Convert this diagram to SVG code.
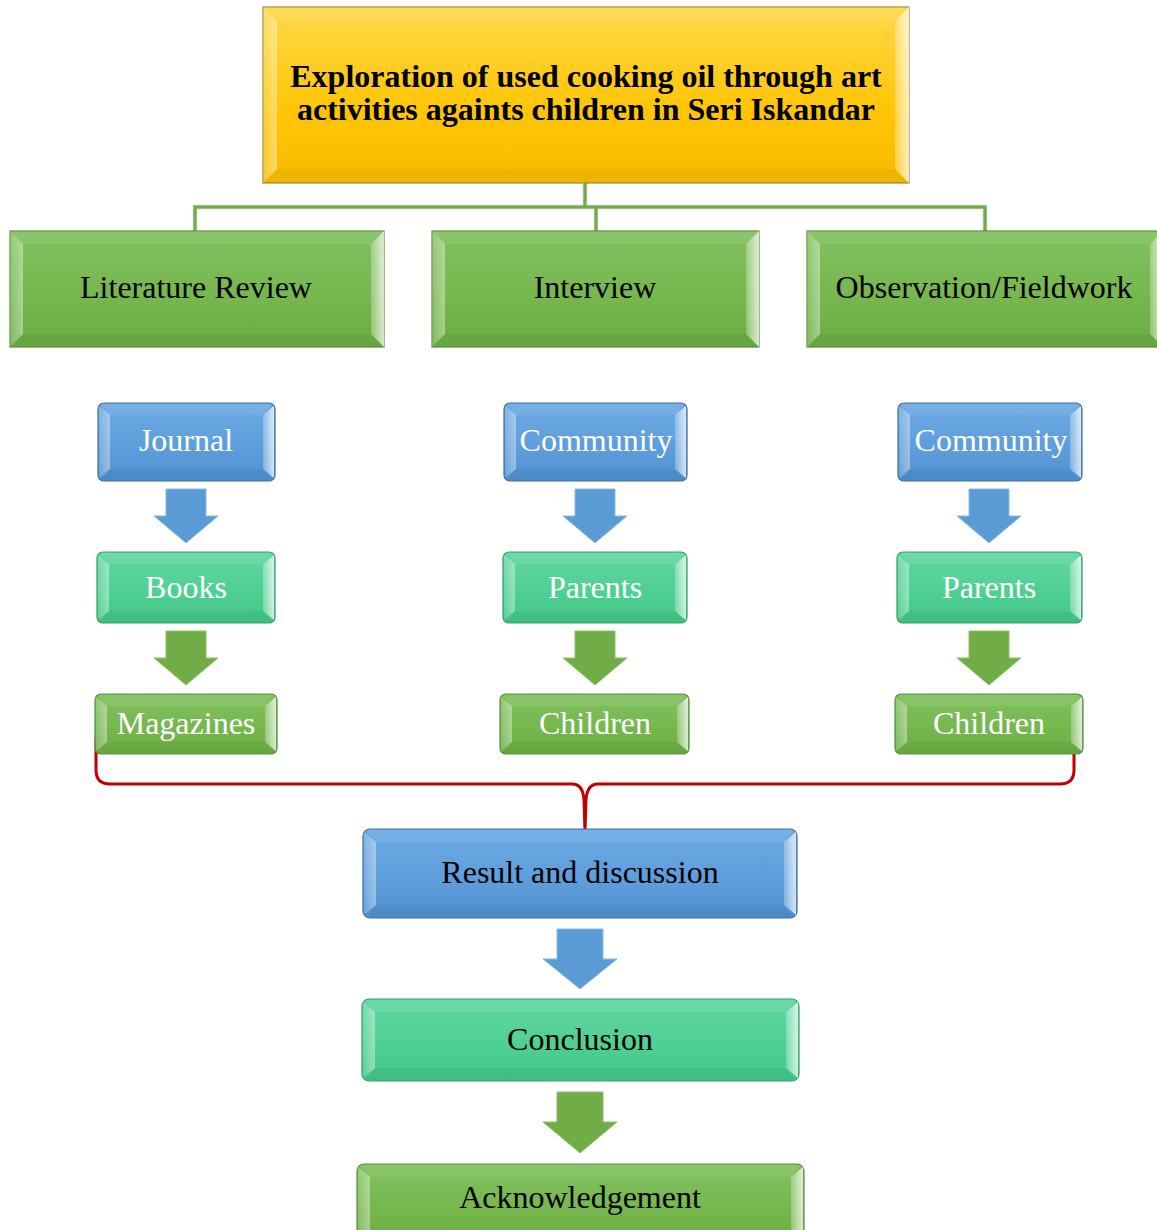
<svg xmlns="http://www.w3.org/2000/svg" width="1157" height="1230" viewBox="0 0 1157 1230">
<defs>
<linearGradient id="gGold" x1="0" y1="0" x2="0" y2="1"><stop offset="0" stop-color="#ffd849"/><stop offset="0.6" stop-color="#ffc505"/><stop offset="1" stop-color="#f7bc00"/></linearGradient>
<linearGradient id="gGreen" x1="0" y1="0" x2="0" y2="1"><stop offset="0" stop-color="#82c160"/><stop offset="0.6" stop-color="#75b64d"/><stop offset="1" stop-color="#6aac42"/></linearGradient>
<linearGradient id="gBlue" x1="0" y1="0" x2="0" y2="1"><stop offset="0" stop-color="#6eaae4"/><stop offset="0.6" stop-color="#5d9ddb"/><stop offset="1" stop-color="#4f8fcf"/></linearGradient>
<linearGradient id="gTeal" x1="0" y1="0" x2="0" y2="1"><stop offset="0" stop-color="#62d6a2"/><stop offset="0.6" stop-color="#4ecf92"/><stop offset="1" stop-color="#40c584"/></linearGradient>
<linearGradient id="gRight" x1="0" y1="0" x2="1" y2="0"><stop offset="0" stop-color="#ffffff" stop-opacity="0.25"/><stop offset="1" stop-color="#ffffff" stop-opacity="0.75"/></linearGradient>
<linearGradient id="gLeft" x1="0" y1="0" x2="1" y2="0"><stop offset="0" stop-color="#ffffff" stop-opacity="0.15"/><stop offset="1" stop-color="#ffffff" stop-opacity="0.4"/></linearGradient>
</defs>
<style>
.box{stroke:#7a7a7a;stroke-width:1.2}
.gold{fill:url(#gGold);stroke:#a08a3a}
.green{fill:url(#gGreen);stroke:#5a8f3c}
.blue{fill:url(#gBlue);stroke:#41719c}
.teal{fill:url(#gTeal);stroke:#35a070}
.bl{fill:url(#gLeft)}
.br{fill:url(#gRight)}
.bt{fill:#ffffff;fill-opacity:0.08}
.bb{fill:#000000;fill-opacity:0.04}
.t{font-family:"Liberation Serif","Times New Roman",serif;font-size:32px;text-anchor:middle}
.dark{fill:#000000}
.light{fill:#ffffff}
.title{font-weight:bold}
.conn{fill:none;stroke:#70ad47;stroke-width:3}
.connS{fill:none;stroke:#9a9a9a;stroke-width:4.5;stroke-opacity:0.5}
.arB{fill:#5b9bd5;stroke:#8bb8e3;stroke-width:1}
.arG{fill:#70ad47;stroke:#8fc26c;stroke-width:1}
.brace{fill:none;stroke:#c00000;stroke-width:3}
</style>

<g id="connectors">
<path class="connS" d="M585,183 V206 M195,231 V207 H985 V231 M596,206 V231"/>
<path class="conn" d="M585,183 V206 M195,231 V207 H985 V231 M596,206 V231"/>
<polygon class="arB" points="166,489 206,489 206,516 218,516 186,543 154,516 166,516"/>
<polygon class="arB" points="575,489 615,489 615,516 627,516 595,543 563,516 575,516"/>
<polygon class="arB" points="969,489 1009,489 1009,516 1021,516 989,543 957,516 969,516"/>
<polygon class="arG" points="166,631 206,631 206,658 218,658 186,685 154,658 166,658"/>
<polygon class="arG" points="575,631 615,631 615,658 627,658 595,685 563,658 575,658"/>
<polygon class="arG" points="969,631 1009,631 1009,658 1021,658 989,685 957,658 969,658"/>
<polygon class="arB" points="557,929 603,929 603,959 617,959 580,989 543,959 557,959"/>
<polygon class="arG" points="557,1092 603,1092 603,1122 617,1122 580,1153 543,1122 557,1122"/>
<path class="brace" d="M96,737 V770 Q96,784 110,784 H572 Q583,784 584,800 L585,832 L586,800 Q587,784 598,784 H1060 Q1074,784 1074,770 V737"/>
</g>

<g id="title">
<rect class="box gold" x="263" y="7" width="646" height="176"/>
<polygon class="bt" points="263,7 909,7 895,21 277,21"/>
<polygon class="bb" points="263,183 909,183 895,169 277,169"/>
<polygon class="bl" points="263,7 277,21 277,169 263,183"/>
<polygon class="br" points="909,7 895,21 895,169 909,183"/>
<text class="t dark title" x="586" y="87">Exploration of used cooking oil through art</text>
<text class="t dark title" x="586" y="120">activities againts children in Seri Iskandar</text>
</g>

<g id="literature-review">
<rect class="box green" x="10" y="231" width="374" height="116"/>
<polygon class="bt" points="10,231 384,231 371,244 23,244"/>
<polygon class="bb" points="10,347 384,347 371,334 23,334"/>
<polygon class="bl" points="10,231 23,244 23,334 10,347"/>
<polygon class="br" points="384,231 371,244 371,334 384,347"/>
<text class="t dark" x="196" y="298">Literature Review</text>
</g>

<g id="interview">
<rect class="box green" x="432" y="231" width="327" height="116"/>
<polygon class="bt" points="432,231 759,231 746,244 445,244"/>
<polygon class="bb" points="432,347 759,347 746,334 445,334"/>
<polygon class="bl" points="432,231 445,244 445,334 432,347"/>
<polygon class="br" points="759,231 746,244 746,334 759,347"/>
<text class="t dark" x="595" y="298">Interview</text>
</g>

<g id="observation">
<rect class="box green" x="807" y="231" width="356" height="116"/>
<polygon class="bt" points="807,231 1163,231 1150,244 820,244"/>
<polygon class="bb" points="807,347 1163,347 1150,334 820,334"/>
<polygon class="bl" points="807,231 820,244 820,334 807,347"/>
<polygon class="br" points="1163,231 1150,244 1150,334 1163,347"/>
<text class="t dark" x="984" y="298">Observation/Fieldwork</text>
</g>

<g id="journal">
<rect class="box blue" x="98" y="403" width="177" height="78" rx="6"/>
<polygon class="bt" points="101,404 272,404 263,415 110,415"/>
<polygon class="bb" points="101,480 272,480 263,469 110,469"/>
<polygon class="bl" points="99,406 110,415 110,469 99,478"/>
<polygon class="br" points="274,406 263,415 263,469 274,478"/>
<text class="t light" x="186" y="451">Journal</text>
</g>

<g id="books">
<rect class="box teal" x="97" y="552" width="178" height="71" rx="6"/>
<polygon class="bt" points="100,553 272,553 263,564 109,564"/>
<polygon class="bb" points="100,622 272,622 263,611 109,611"/>
<polygon class="bl" points="98,555 109,564 109,611 98,620"/>
<polygon class="br" points="274,555 263,564 263,611 274,620"/>
<text class="t light" x="186" y="598">Books</text>
</g>

<g id="magazines">
<rect class="box green" x="95" y="694" width="182" height="60" rx="6"/>
<polygon class="bt" points="98,695 274,695 265,706 107,706"/>
<polygon class="bb" points="98,753 274,753 265,742 107,742"/>
<polygon class="bl" points="96,697 107,706 107,742 96,751"/>
<polygon class="br" points="276,697 265,706 265,742 276,751"/>
<text class="t light" x="186" y="734">Magazines</text>
</g>

<g id="community-1">
<rect class="box blue" x="504" y="403" width="183" height="78" rx="6"/>
<polygon class="bt" points="507,404 684,404 675,415 516,415"/>
<polygon class="bb" points="507,480 684,480 675,469 516,469"/>
<polygon class="bl" points="505,406 516,415 516,469 505,478"/>
<polygon class="br" points="686,406 675,415 675,469 686,478"/>
<text class="t light" x="596" y="451">Community</text>
</g>

<g id="parents-1">
<rect class="box teal" x="503" y="552" width="184" height="71" rx="6"/>
<polygon class="bt" points="506,553 684,553 675,564 515,564"/>
<polygon class="bb" points="506,622 684,622 675,611 515,611"/>
<polygon class="bl" points="504,555 515,564 515,611 504,620"/>
<polygon class="br" points="686,555 675,564 675,611 686,620"/>
<text class="t light" x="595" y="598">Parents</text>
</g>

<g id="children-1">
<rect class="box green" x="500" y="694" width="189" height="60" rx="6"/>
<polygon class="bt" points="503,695 686,695 677,706 512,706"/>
<polygon class="bb" points="503,753 686,753 677,742 512,742"/>
<polygon class="bl" points="501,697 512,706 512,742 501,751"/>
<polygon class="br" points="688,697 677,706 677,742 688,751"/>
<text class="t light" x="595" y="734">Children</text>
</g>

<g id="community-2">
<rect class="box blue" x="898" y="403" width="184" height="78" rx="6"/>
<polygon class="bt" points="901,404 1079,404 1070,415 910,415"/>
<polygon class="bb" points="901,480 1079,480 1070,469 910,469"/>
<polygon class="bl" points="899,406 910,415 910,469 899,478"/>
<polygon class="br" points="1081,406 1070,415 1070,469 1081,478"/>
<text class="t light" x="991" y="451">Community</text>
</g>

<g id="parents-2">
<rect class="box teal" x="897" y="552" width="185" height="71" rx="6"/>
<polygon class="bt" points="900,553 1079,553 1070,564 909,564"/>
<polygon class="bb" points="900,622 1079,622 1070,611 909,611"/>
<polygon class="bl" points="898,555 909,564 909,611 898,620"/>
<polygon class="br" points="1081,555 1070,564 1070,611 1081,620"/>
<text class="t light" x="989" y="598">Parents</text>
</g>

<g id="children-2">
<rect class="box green" x="895" y="694" width="188" height="60" rx="6"/>
<polygon class="bt" points="898,695 1080,695 1071,706 907,706"/>
<polygon class="bb" points="898,753 1080,753 1071,742 907,742"/>
<polygon class="bl" points="896,697 907,706 907,742 896,751"/>
<polygon class="br" points="1082,697 1071,706 1071,742 1082,751"/>
<text class="t light" x="989" y="734">Children</text>
</g>

<g id="result">
<rect class="box blue" x="363" y="829" width="434" height="89" rx="7"/>
<polygon class="bt" points="367,830 793,830 784,842 376,842"/>
<polygon class="bb" points="367,917 793,917 784,905 376,905"/>
<polygon class="bl" points="364,832 376,842 376,905 364,915"/>
<polygon class="br" points="796,832 784,842 784,905 796,915"/>
<text class="t dark" x="580" y="883">Result and discussion</text>
</g>

<g id="conclusion">
<rect class="box teal" x="362" y="999" width="437" height="82" rx="7"/>
<polygon class="bt" points="366,1000 795,1000 786,1012 375,1012"/>
<polygon class="bb" points="366,1080 795,1080 786,1068 375,1068"/>
<polygon class="bl" points="363,1002 375,1012 375,1068 363,1078"/>
<polygon class="br" points="798,1002 786,1012 786,1068 798,1078"/>
<text class="t dark" x="580" y="1050">Conclusion</text>
</g>

<g id="acknowledgement">
<rect class="box green" x="357" y="1164" width="447" height="80" rx="7"/>
<polygon class="bt" points="361,1165 800,1165 791,1177 370,1177"/>
<polygon class="bl" points="358,1167 370,1177 370,1230 358,1240"/>
<polygon class="br" points="803,1167 791,1177 791,1230 803,1240"/>
<text class="t dark" x="580" y="1208">Acknowledgement</text>
</g>
</svg>
